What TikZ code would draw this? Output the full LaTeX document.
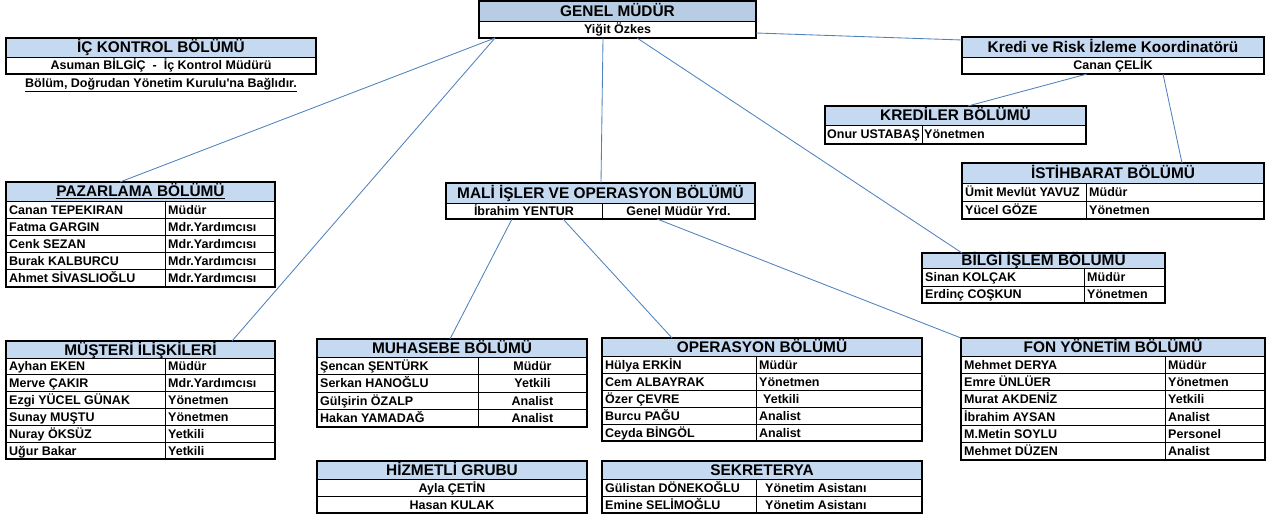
\documentclass[tikz,border=0pt]{standalone}
\usepackage{fontspec}
\setmainfont{Liberation Sans}
\usetikzlibrary{fit,calc}
\definecolor{hdrblue}{RGB}{197,217,241}
\definecolor{gmblue}{RGB}{184,204,228}
\definecolor{lineblue}{RGB}{79,129,189}
\tikzset{
  hdrfill/.style={fill=hdrblue},
  boxframe/.style={draw=black, line width=1.2pt, inner sep=0pt, outer sep=0pt},
  gridline/.style={draw=black, line width=0.9pt},
  hdrtext/.style={font=\fontsize{15.4}{17}\selectfont\bfseries, inner sep=0pt, anchor=base},
  cellL/.style={font=\fontsize{12.5}{14}\selectfont\bfseries, inner sep=0pt, anchor=base west},
  cellC/.style={font=\fontsize{12.5}{14}\selectfont\bfseries, inner sep=0pt, anchor=base},
  conn/.style={draw=lineblue, line width=0.85pt},
}
% name, x0, y0, x1, y1, header bottom, header text
\newcommand\orgtbl[7]{%
  \fill[hdrfill] (#2,#3) rectangle (#4,#6);
  \node[boxframe, fit={(#2,#3)(#4,#5)}] (#1) {};
  \draw[gridline] (#2,#6) -- (#4,#6);
  \node[hdrtext] (#1-h) at ({(#2+#4)/2},{(#3+#6)/2+5.5}) {#7};
}
\begin{document}
\begin{tikzpicture}[x=1pt,y=-1pt]
\useasboundingbox (0,0) rectangle (1268,518);

% GENEL MUDUR
\fill[fill=gmblue] (479,1) rectangle (756,21);
\node[boxframe, fit={(479,1)(756,38)}] (gm) {};
\draw[gridline] (479,21) -- (756,21);
\node[hdrtext] (gm-h) at (617.5,16.5) {GENEL MÜDÜR};
\node[cellC] (gm-n) at (617.5,34) {Yiğit Özkes};

% IC KONTROL
\orgtbl{ick}{6}{38}{316}{74}{57}{İÇ KONTROL BÖLÜMÜ}
\node[cellC] (ick-n) at (161,70) {Asuman BİLGİÇ \ - \ İç Kontrol Müdürü};
\node[cellC] (ick-note) at (161,87.5) {\underline{Bölüm, Doğrudan Yönetim Kurulu\textquotesingle na Bağlıdır.}};

% KREDI VE RISK
\orgtbl{kredi}{962}{37}{1264}{74}{57}{Kredi ve Risk İzleme Koordinatörü}
\node[cellC] (kredi-n) at (1113,70) {Canan ÇELİK};

% KREDILER
\orgtbl{krd}{825}{106}{1086}{144}{125}{KREDİLER BÖLÜMÜ}
\draw[gridline] (922,125) -- (922,144);
\node[cellL] (krd-n1) at (827,139) {Onur USTABAŞ};
\node[cellL] (krd-r1) at (924,139) {Yönetmen};

% ISTIHBARAT
\orgtbl{ist}{962}{163}{1264}{219}{183}{İSTİHBARAT BÖLÜMÜ}
\draw[gridline] (962,201) -- (1264,201);
\draw[gridline] (1086,183) -- (1086,219);
\foreach \nm/\rl [count=\i] in {Ümit Mevlüt YAVUZ/Müdür, Yücel GÖZE/Yönetmen}{
  \node[cellL] (ist-n\i) at (965,{183+18*(\i-0.5)+4.5}) {\nm};
  \node[cellL] (ist-r\i) at (1089,{183+18*(\i-0.5)+4.5}) {\rl};
}

% PAZARLAMA
\orgtbl{paz}{6}{182}{275}{287}{201}{\underline{PAZARLAMA BÖLÜMÜ}}
\foreach \i in {1,...,4}{\draw[gridline] (6,{201+17.2*\i}) -- (275,{201+17.2*\i});}
\draw[gridline] (165,201) -- (165,287);
\foreach \nm/\rl [count=\i] in {Canan TEPEKIRAN/Müdür, Fatma GARGIN/Mdr.Yardımcısı, Cenk SEZAN/Mdr.Yardımcısı, Burak KALBURCU/Mdr.Yardımcısı, Ahmet SİVASLIOĞLU/Mdr.Yardımcısı}{
  \node[cellL] (paz-n\i) at (9,{201+17.2*(\i-0.5)+4.5}) {\nm};
  \node[cellL] (paz-r\i) at (168,{201+17.2*(\i-0.5)+4.5}) {\rl};
}

% MALI ISLER
\orgtbl{mali}{446}{183}{755}{219}{203}{MALİ İŞLER VE OPERASYON BÖLÜMÜ}
\draw[gridline] (602,203) -- (602,219);
\node[cellC] (mali-n) at (524,215.5) {İbrahim YENTUR};
\node[cellC] (mali-r) at (678.5,215.5) {Genel Müdür Yrd.};

% BILGI ISLEM
\orgtbl{bilgi}{922}{253}{1165}{303}{268}{BİLGİ İŞLEM BÖLÜMÜ}
\draw[gridline] (922,286) -- (1165,286);
\draw[gridline] (1084,268) -- (1084,303);
\node[cellL] (bilgi-n1) at (925,281.5) {Sinan KOLÇAK};
\node[cellL] (bilgi-r1) at (1087,281.5) {Müdür};
\node[cellL] (bilgi-n2) at (925,299) {Erdinç COŞKUN};
\node[cellL] (bilgi-r2) at (1087,299) {Yönetmen};

% MUSTERI ILISKILERI
\orgtbl{mus}{6}{341}{275}{459}{358}{MÜŞTERİ İLİŞKİLERİ}
\foreach \i in {1,...,5}{\draw[gridline] (6,{358+16.833*\i}) -- (275,{358+16.833*\i});}
\draw[gridline] (165,358) -- (165,459);
\foreach \nm/\rl [count=\i] in {Ayhan EKEN/Müdür, Merve ÇAKIR/Mdr.Yardımcısı, Ezgi YÜCEL GÜNAK/Yönetmen, Sunay MUŞTU/Yönetmen, Nuray ÖKSÜZ/Yetkili, Uğur Bakar/Yetkili}{
  \node[cellL] (mus-n\i) at (9,{358+16.833*(\i-0.5)+4.5}) {\nm};
  \node[cellL] (mus-r\i) at (168,{358+16.833*(\i-0.5)+4.5}) {\rl};
}

% MUHASEBE
\orgtbl{muh}{317}{339}{587}{427}{357}{MUHASEBE BÖLÜMÜ}
\foreach \i in {1,...,3}{\draw[gridline] (317,{357+17.5*\i}) -- (587,{357+17.5*\i});}
\draw[gridline] (478,357) -- (478,427);
\foreach \nm/\rl [count=\i] in {Şencan ŞENTÜRK/Müdür, Serkan HANOĞLU/Yetkili, Gülşirin ÖZALP/Analist, Hakan YAMADAĞ/Analist}{
  \node[cellL] (muh-n\i) at (320,{357+17.5*(\i-0.5)+4.5}) {\nm};
  \node[cellC] (muh-r\i) at (532.5,{357+17.5*(\i-0.5)+4.5}) {\rl};
}

% OPERASYON
\orgtbl{ops}{602}{338}{922}{441}{356}{OPERASYON BÖLÜMÜ}
\foreach \i in {1,...,4}{\draw[gridline] (602,{356+17*\i}) -- (922,{356+17*\i});}
\draw[gridline] (756,356) -- (756,441);
\foreach \nm/\rl/\dx [count=\i] in {Hülya ERKİN/Müdür/0, Cem ALBAYRAK/Yönetmen/0, Özer ÇEVRE/Yetkili/4, Burcu PAĞU/Analist/0, Ceyda BİNGÖL/Analist/0}{
  \node[cellL] (ops-n\i) at (605,{356+17*(\i-0.5)+4.5}) {\nm};
  \node[cellL] (ops-r\i) at ({759+\dx},{356+17*(\i-0.5)+4.5}) {\rl};
}

% FON YONETIM
\orgtbl{fon}{961}{338}{1265}{460}{356}{FON YÖNETİM BÖLÜMÜ}
\foreach \i in {1,...,5}{\draw[gridline] (961,{356+17.333*\i}) -- (1265,{356+17.333*\i});}
\draw[gridline] (1165,356) -- (1165,460);
\foreach \nm/\rl [count=\i] in {Mehmet DERYA/Müdür, Emre ÜNLÜER/Yönetmen, Murat AKDENİZ/Yetkili, İbrahim AYSAN/Analist, M.Metin SOYLU/Personel, Mehmet DÜZEN/Analist}{
  \node[cellL] (fon-n\i) at (964,{356+17.333*(\i-0.5)+4.5}) {\nm};
  \node[cellL] (fon-r\i) at (1168,{356+17.333*(\i-0.5)+4.5}) {\rl};
}

% HIZMETLI GRUBU
\orgtbl{hiz}{317}{461}{587}{513}{479}{HİZMETLİ GRUBU}
\draw[gridline] (317,496) -- (587,496);
\node[cellC] (hiz-n1) at (452,492) {Ayla ÇETİN};
\node[cellC] (hiz-n2) at (452,509) {Hasan KULAK};

% SEKRETERYA
\orgtbl{sek}{602}{461}{922}{513}{479}{SEKRETERYA}
\draw[gridline] (602,496) -- (922,496);
\draw[gridline] (756,479) -- (756,513);
\node[cellL] (sek-n1) at (605,492) {Gülistan DÖNEKOĞLU};
\node[cellL] (sek-r1) at (765,492) {Yönetim Asistanı};
\node[cellL] (sek-n2) at (605,509) {Emine SELİMOĞLU};
\node[cellL] (sek-r2) at (765,509) {Yönetim Asistanı};

% connector end points
\coordinate (gmA) at ($(gm.south west)+(16,0)$);
\coordinate (gmB) at ($(gm.south west)+(124,0)$);
\coordinate (gmC) at ($(gm.south west)+(158,0)$);
\coordinate (gmD) at ($(gm.north east)+(0,32)$);
\coordinate (pazT) at ($(paz.north west)+(114,0)$);
\coordinate (musT) at ($(mus.north west)+(226,0)$);
\coordinate (maliT) at ($(mali.north west)+(155,0)$);
\coordinate (bilgiT) at ($(bilgi.north west)+(40,0)$);
\coordinate (krediL) at ($(kredi.north west)+(0,3)$);
\coordinate (krediA) at ($(kredi.south west)+(125,0)$);
\coordinate (krediB) at ($(kredi.south west)+(201,0)$);
\coordinate (krdT) at ($(krd.north west)+(143,0)$);
\coordinate (istT) at ($(ist.north west)+(220,0)$);
\coordinate (maliA) at ($(mali.south west)+(66,0)$);
\coordinate (maliB) at ($(mali.south west)+(117,0)$);
\coordinate (maliC) at ($(mali.south west)+(211,0)$);
\coordinate (muhT) at ($(muh.north west)+(133,0)$);
\coordinate (opsT) at ($(ops.north west)+(70,0)$);

\draw[conn] (gmA) -- (pazT);
\draw[conn] (gmA) -- (musT);
\draw[conn] (gmB) -- (maliT);
\draw[conn] (gmC) -- (bilgiT);
\draw[conn] (gmD) -- (krediL);
\draw[conn] (krediA) -- (krdT);
\draw[conn] (krediB) -- (istT);
\draw[conn] (maliA) -- (muhT);
\draw[conn] (maliB) -- (opsT);
\draw[conn] (maliC) -- (fon.north west);
\end{tikzpicture}
\end{document}
